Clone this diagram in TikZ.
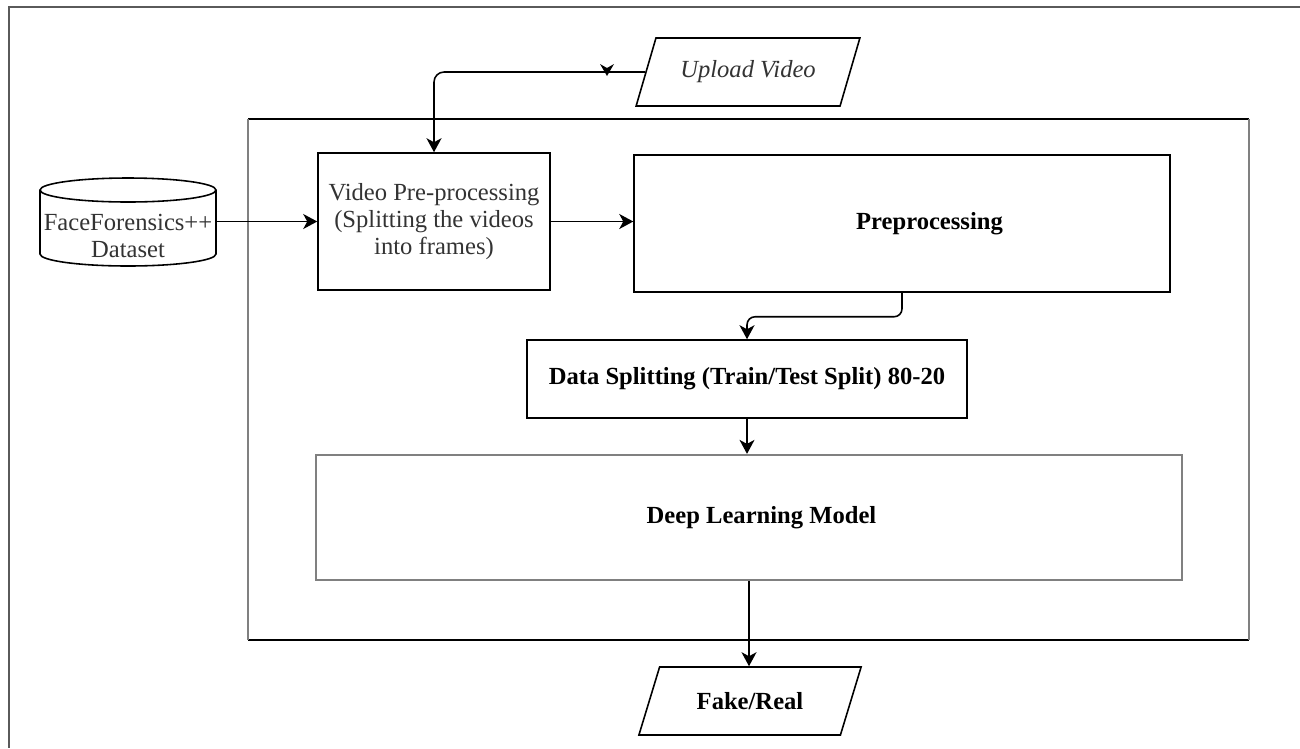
\documentclass[tikz,border=0pt]{standalone}
\usepackage{fontspec}
\setmainfont{Liberation Serif}
\usetikzlibrary{shapes,arrows,positioning,calc,arrows.meta}
\definecolor{boxgray}{RGB}{128,128,128}
\definecolor{txtgray}{RGB}{51,51,51}

\begin{document}
\begin{tikzpicture}[x=0.02cm,y=-0.02cm,
    every node/.style={font=\fontsize{14}{15.5}\selectfont,align=center},
    blk/.style={draw,line width=0.9pt,text=txtgray},
    bld/.style={font=\fontsize{14}{15.5}\selectfont\bfseries,text=black},
    io/.style={trapezium,trapezium left angle=65,trapezium right angle=115,trapezium stretches=true,
      draw,line width=0.9pt,minimum width=4.48cm,minimum height=1.36cm},
    arr/.style={line width=0.9pt,-{Stealth[length=2.8mm,width=3mm,inset=0.8mm]}}]
  \useasboundingbox (0,0) rectangle (1300,748);
  \draw[boxgray!70!black,line width=1.1pt] (1300,7) -- (9,7) -- (9,748);
  \draw[line width=0.7pt] (248,119) -- (1249,119) (248,640) -- (1249,640);
  \draw[boxgray,line width=1.3pt] (248,119) -- (248,640) (1249,119) -- (1249,640);

  \draw[line width=0.9pt,fill=white] (40,190) -- (40,254) arc[start angle=180,end angle=360,x radius=1.76cm,y radius=0.24cm] -- (216,190);
  \draw[line width=0.9pt] (128,190) ellipse[x radius=1.76cm,y radius=0.24cm];
  \node[text=txtgray,inner sep=0pt,minimum width=3.52cm] (data) at (128,236) {FaceForensics++\\Dataset};

  \node[io,font=\fontsize{14}{15.5}\selectfont\itshape,text=txtgray] (up) at (748,72) {Upload Video};
  \node[blk,minimum width=4.64cm,minimum height=2.74cm] (vp) at (434,221.5) {Video Pre-processing\\(Splitting the videos\\into frames)};
  \node[blk,bld,minimum width=10.72cm,minimum height=2.74cm] (pp) at (902,223.5) {\hspace*{1.1cm}Preprocessing};
  \node[blk,bld,minimum width=8.8cm,minimum height=1.56cm] (ds) at (747,379) {Data Splitting (Train/Test Split) 80-20};
  \node[draw=boxgray,line width=1.3pt,bld,minimum width=17.32cm,minimum height=2.5cm] (dlm) at (749,517.5) {\hspace*{0.5cm}Deep Learning Model};
  \node[io,bld] (fr) at (750,701) {Fake/Real};

  \draw[arr,rounded corners=0.2cm] (up.left side) -| (vp.north);
  \fill (607,70) +(-7,-6) -- +(0,6) -- +(7,-6) -- +(0,-2) -- cycle;
  \draw[arr] (data.east |- vp.west) -- (vp.west);
  \draw[arr] (vp.east) -- (vp.east -| pp.west);
  \draw[arr,rounded corners=0.16cm] (pp.south) -- ++(0,24) -| (ds.north);
  \draw[arr] (ds.south) -- (ds.south |- dlm.north);
  \draw[arr] (dlm.south) -- (dlm.south |- fr.north);
\end{tikzpicture}
\end{document}
